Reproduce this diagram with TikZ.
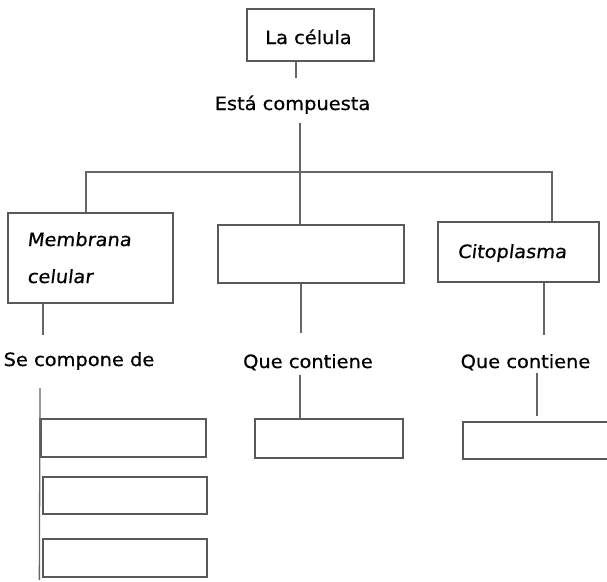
\documentclass[tikz,border=0pt]{standalone}
\usepackage{fontspec}
\setmainfont[FakeStretch=1.06,FakeBold=0.6]{DejaVu Sans}
\newfontfamily\slfont[FakeStretch=1.06,FakeBold=0.6,FakeSlant=0.12]{DejaVu Sans}
\begin{document}
\begin{tikzpicture}[x=1pt,y=-1pt,
  box/.style={draw=black!65,line width=1.3pt,fill=white,inner sep=0pt},
  txt/.style={inner sep=0pt,text height=13pt,text depth=4pt,font=\fontsize{18.3}{21}\selectfont,text=black},
  stxt/.style={txt,font=\fontsize{18.3}{21}\selectfont\slfont},
  conn/.style={draw=black!60,line width=1.3pt}]
\useasboundingbox (0,0) rectangle (607,581);
\fill[white] (0,0) rectangle (607,581);
% boxes
\node[box,minimum width=127pt,minimum height=52pt] (top) at (310.5,35) {};
\node[box,minimum width=165pt,minimum height=90pt] (memb) at (90.5,258) {};
\node[box,minimum width=186pt,minimum height=58pt] (mid) at (311,254) {};
\node[box,minimum width=161pt,minimum height=60pt] (cito) at (518.5,252) {};
\node[box,minimum width=165pt,minimum height=38pt] (b1) at (123.5,438) {};
\node[box,minimum width=164pt,minimum height=37pt] (b2) at (125,495.5) {};
\node[box,minimum width=164pt,minimum height=38pt] (b3) at (125,558) {};
\node[box,minimum width=148pt,minimum height=39pt] (b4) at (329,438.5) {};
\node[box,minimum width=152pt,minimum height=37pt] (b5) at (539,440.5) {};
% texts
\node[txt] (celula) at (308.5,39.5) {La célula};
\node[txt] (comp) at (292.5,105.5) {Está compuesta};
\node[stxt,anchor=west] (membt) at (27,241.5) {Membrana};
\node[stxt,anchor=west] (celt) at (27,278.5) {celular};
\node[stxt] (citot) at (512,253.5) {Citoplasma};
\node[txt] (sc) at (79,361.5) {Se compone de};
\node[txt] (q1) at (308,363.5) {Que contiene};
\node[txt] (q2) at (525.5,363.5) {Que contiene};
\coordinate (hub) at (300,172);
% connectors
\draw[conn] ([xshift=-14.5pt]top.south) -- ([xshift=3.5pt,yshift=19pt]comp.north);
\draw[conn] ([xshift=7.5pt,yshift=-9pt]comp.south) -- (hub);
\draw[conn] ([xshift=-4.5pt]memb.north) |- (hub) -| ([xshift=33.5pt]cito.north);
\draw[conn] (hub) -- (hub |- mid.north);
\draw[conn] ([xshift=-47.5pt]memb.south) -- ([xshift=-36pt,yshift=18pt]sc.north);
\draw[conn] ([xshift=-10pt]mid.south) -- ([xshift=-7pt,yshift=22pt]q1.north);
\draw[conn] ([xshift=25.5pt]cito.south) -- ([xshift=18.5pt,yshift=20pt]q2.north);
\draw[conn] ([xshift=-39pt,yshift=-18pt]sc.south) -- ([xshift=-3pt,yshift=-22pt]b3.west);
\draw[conn] ([xshift=-8pt,yshift=-3pt]q1.south) -- ([xshift=-29pt]b4.north);
\draw[conn] ([xshift=11.5pt,yshift=-1pt]q2.south) -- ([xshift=-2pt,yshift=5pt]b5.north);
\end{tikzpicture}
\end{document}
